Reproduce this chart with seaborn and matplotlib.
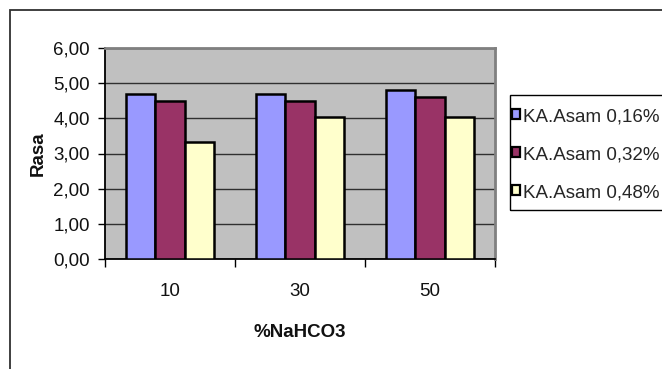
import matplotlib
matplotlib.use("Agg")
import matplotlib.pyplot as plt
import matplotlib.patches as mpatches
from matplotlib.ticker import FixedLocator, FuncFormatter, NullFormatter
import seaborn as sns
import pandas as pd

# Data
categories = ["10", "30", "50"]
series = ["KA.Asam 0,16%", "KA.Asam 0,32%", "KA.Asam 0,48%"]
asam_016 = [4.70, 4.70, 4.80]
asam_032 = [4.50, 4.50, 4.60]
asam_048 = [3.33, 4.05, 4.05]
colors = ["#9999FF", "#993366", "#FFFFCC"]

rows = []
for name, vals in zip(series, [asam_016, asam_032, asam_048]):
    for cat, v in zip(categories, vals):
        rows.append({"NaHCO3": cat, "Rasa": v, "Seri": name})
df = pd.DataFrame(rows)

sns.set_theme(style="white")
plt.rcParams["font.family"] = ["Liberation Sans", "DejaVu Sans"]
FS = 13.5

W, H = 662, 369
fig = plt.figure(figsize=(W / 100, H / 100), dpi=100)
ax = fig.add_axes([105 / W, 1 - 259 / H, 390 / W, 211 / H])
ax.set_facecolor("#C0C0C0")

sns.barplot(data=df, x="NaHCO3", y="Rasa", hue="Seri", order=categories,
            hue_order=series, palette=colors, width=0.67, gap=0,
            edgecolor="black", linewidth=1.8, saturation=1, ax=ax,
            legend=False, errorbar=None, zorder=3)

ax.set_ylim(0, 6)
ax.set_xlim(-0.5, 2.5)

# horizontal gridlines behind the bars
ax.yaxis.grid(True, color="#303030", linewidth=1.0, zorder=1)
ax.set_axisbelow(True)

# y axis: comma decimals
ax.yaxis.set_major_locator(FixedLocator([0, 1, 2, 3, 4, 5, 6]))
ax.yaxis.set_major_formatter(FuncFormatter(lambda v, p: f"{v:.2f}".replace(".", ",")))
ax.tick_params(axis="y", which="major", direction="out", length=5, width=1,
               color="black", labelsize=FS, pad=6, labelcolor="#111111", left=True)

# x axis: tick marks between groups, labels centred under groups
ax.xaxis.set_major_locator(FixedLocator([-0.5, 0.5, 1.5, 2.5]))
ax.xaxis.set_major_formatter(NullFormatter())
ax.xaxis.set_minor_locator(FixedLocator([0, 1, 2]))
ax.xaxis.set_minor_formatter(FuncFormatter(lambda v, p: categories[int(round(v))]))
ax.tick_params(axis="x", which="major", direction="out", length=6, width=1,
               color="black", bottom=True)
ax.tick_params(axis="x", which="minor", length=0, labelsize=FS, pad=17,
               labelcolor="#111111", bottom=True)

for side in ["left", "bottom"]:
    ax.spines[side].set_color("black")
    ax.spines[side].set_linewidth(1.3)
for side in ["top", "right"]:
    ax.spines[side].set_color("#808080")
    ax.spines[side].set_linewidth(2.0)

ax.set_xlabel("%NaHCO3", fontsize=FS, fontweight="bold", color="#111111")
ax.set_ylabel("Rasa", fontsize=FS, fontweight="bold", color="#111111")
ax.xaxis.set_label_coords(0.5, -0.31)
ax.yaxis.set_label_coords(-0.15, 0.5)

# legend with a box running off the right edge
handles = [mpatches.Patch(facecolor=c, edgecolor="black", linewidth=1.6) for c in colors]
fig.legend(handles, series, loc="upper left", bbox_to_anchor=(512 / W, 1 - 108 / H),
           frameon=False, fontsize=FS, handlelength=0.45, handleheight=0.45,
           handletextpad=0.15, labelspacing=1.12, borderpad=0, borderaxespad=0)
fig.patches.append(mpatches.Rectangle((509.5 / W, 1 - 210 / H), 0.5, 115 / H,
                                      transform=fig.transFigure, fill=False,
                                      edgecolor="black", linewidth=1.0))

# outer chart frame
fig.patches.append(mpatches.Rectangle((9.5 / W, -0.2), 1.2, 1.2 - 10 / H,
                                      transform=fig.transFigure, fill=False,
                                      edgecolor="#303030", linewidth=1.3))

fig.savefig("out.png", dpi=100)
